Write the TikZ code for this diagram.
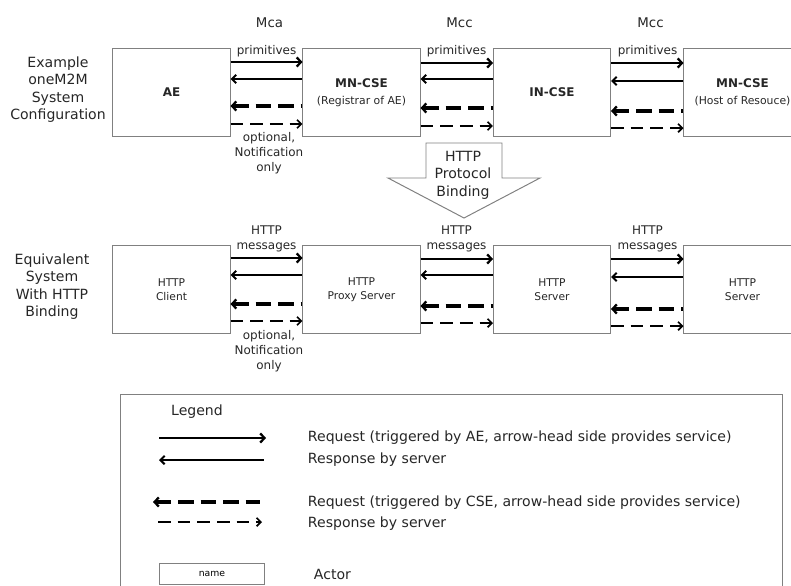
\documentclass[tikz,border=0pt]{standalone}
\usepackage{fontspec}
\setmainfont{DejaVu Sans}
\usepackage{tikz}
\usetikzlibrary{arrows.meta, positioning}

\tikzset{
  actor/.style={draw=black!50, line width=0.7pt, minimum width=2.925cm, minimum height=2.175cm, inner sep=0pt, align=center},
  sidetxt/.style={font=\fontsize{10}{12.4}\selectfont, text=black!85, align=center},
  itftxt/.style={font=\fontsize{9.5}{11}\selectfont, text=black!85},
  primtxt/.style={font=\fontsize{8.5}{10.7}\selectfont, text=black!85, align=center},
  cseatxt/.style={font=\fontsize{8.5}{12}\selectfont\bfseries, text=black!85},
  httptxt/.style={font=\fontsize{7.6}{10.3}\selectfont, text=black!85},
  legtxt/.style={font=\fontsize{10}{12}\selectfont, text=black!85},
  req/.style={line width=2.1pt, -{Straight Barb[length=3pt,width=6.5pt,line width=1.6pt]}},
  rsp/.style={line width=1.4pt, {Straight Barb[length=3pt,width=6pt,line width=1.4pt]}-},
  creq/.style={line width=2.8pt, dash pattern=on 11pt off 5pt, {Straight Barb[length=3pt,width=6.5pt,line width=1.6pt]}-},
  crsp/.style={line width=1.2pt, dash pattern=on 9pt off 5pt, -{Straight Barb[length=3pt,width=6pt,line width=1.2pt]}}
}

\begin{document}
\begin{tikzpicture}[x=0.025cm, y=-0.025cm]
  \useasboundingbox (0,0) rectangle (791,586);

  % Side labels
  \node[sidetxt] (cfgA) at (58,89.5) {Example\\oneM2M\\System\\Configuration};
  \node[sidetxt] (cfgB) at (52,286.5) {Equivalent\\System\\With HTTP\\Binding};

  % oneM2M entities
  \node[actor, cseatxt] (ae) at (171.5,92.5) {AE};
  \node[actor, cseatxt] (mnr) at (361.5,92.5) {MN-CSE\\{\mdseries\fontsize{7.7}{12}\selectfont (Registrar of AE)}};
  \node[actor, cseatxt] (inc) at (552,92.5) {IN-CSE};
  \node[actor, cseatxt] (mnh) at (742.5,92.5) {MN-CSE\\{\mdseries\fontsize{7.7}{12}\selectfont (Host of Resouce)}};

  % HTTP entities
  \node[actor, httptxt] (cli) at (171.5,289.5) {HTTP\\Client};
  \node[actor, httptxt] (prx) at (361.5,289.5) {HTTP\\Proxy Server};
  \node[actor, httptxt] (srvA) at (552,289.5) {HTTP\\Server};
  \node[actor, httptxt] (srvB) at (742.5,289.5) {HTTP\\Server};

  % Reference points and message labels
  \foreach \g/\x/\itf in {g1/266.5/Mca, g2/456.5/Mcc, g3/647.5/Mcc}{
    \node[itftxt] (ref\g) at (\x+3,23) {\itf};
    \node[primtxt] (prim\g) at (\x,51) {primitives};
    \node[primtxt] (msg\g) at (\x,238.5) {HTTP\\messages};
  }
  \node[primtxt] (optA) at (269,153) {optional,\\Notification\\only};
  \node[primtxt] (optB) at (269,351) {optional,\\Notification\\only};

  % Request / response arrows
  \foreach \a/\b/\ya/\yb/\yc/\yd in {
    ae/mnr/62/79/106/124,
    mnr/inc/63/79/108/126,
    inc/mnh/63/81/111/128,
    cli/prx/258/275/304/321,
    prx/srvA/259/275/306/323,
    srvA/srvB/259/277/309/326
  }{
    \draw[req] (\a.east |- 0,\ya) -- (\b.west |- 0,\ya);
    \draw[rsp] (\a.east |- 0,\yb) -- (\b.west |- 0,\yb);
    \draw[creq] (\a.east |- 0,\yc) -- (\b.west |- 0,\yc);
    \draw[crsp] (\a.east |- 0,\yd) -- (\b.west |- 0,\yd);
  }

  % Binding block arrow
  \draw[draw=black!50, line width=0.7pt] (426,143) -- (502,143) -- (502,178) -- (540,178)
    -- (464,218) -- (388,178) -- (426,178) -- cycle;
  \node[sidetxt] (bind) at (463,175) {HTTP\\Protocol\\Binding};

  % Legend
  \draw[draw=black!50, line width=0.7pt] (120,394) rectangle (782,600);
  \node[legtxt] (legttl) at (197,412) {Legend};
  \foreach \i/\xa/\xb/\y/\ty/\sty/\txt in {
    1/159/266/438/438/req/{Request (triggered by AE, arrow-head side provides service)},
    2/159/264/460/460/rsp/{Response by server},
    3/153/260/502/503/creq/{Request (triggered by CSE, arrow-head side provides service)},
    4/158/262/522/524/crsp/{Response by server}
  }{
    \coordinate (la\i) at (\xa,\y);
    \coordinate (lb\i) at (\xb,\y);
    \draw[\sty] (la\i) -- (lb\i);
    \node[legtxt, anchor=west] (lt\i) at (303,\ty) {\txt};
  }
  \node[actor, minimum width=2.6cm, minimum height=0.525cm, font=\fontsize{6.6}{8}\selectfont] (legact) at (212,573.5) {name};
  \node[legtxt, anchor=west] (lt5) at (309,574) {Actor};

\end{tikzpicture}
\end{document}
